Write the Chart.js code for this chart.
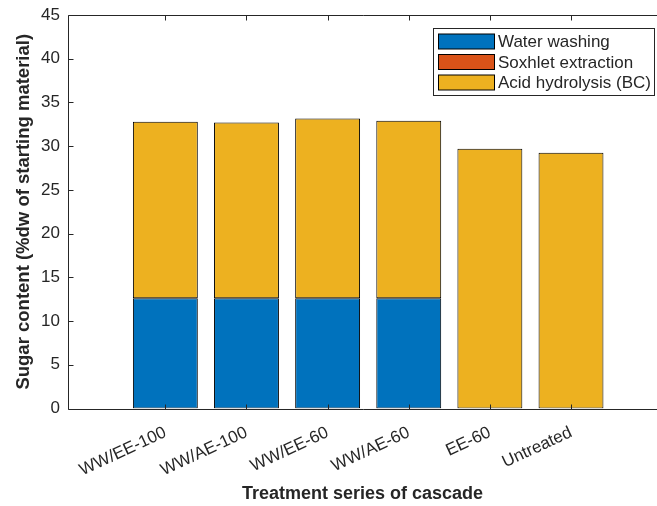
<!DOCTYPE html>
<html>
<head>
<meta charset="utf-8">
<script src="https://cdn.jsdelivr.net/npm/chart.js@4"></script>
<style>
  html, body { margin: 0; padding: 0; background: #fff; overflow: hidden; }
  #wrap { width: 657px; height: 506px; }
</style>
</head>
<body>
<div id="wrap"><canvas id="myChart"></canvas></div>
<script>
const categories = ['WW/EE-100', 'WW/AE-100', 'WW/EE-60', 'WW/AE-60', 'EE-60', 'Untreated'];
const waterWashing = [12.6, 12.6, 12.6, 12.6, 0, 0];
const soxhletExtraction = [0, 0, 0, 0, 0, 0];
const acidHydrolysis = [20.2, 20.1, 20.55, 20.3, 29.7, 29.25];
const yTicks = [0, 5, 10, 15, 20, 25, 30, 35, 40, 45];

const seriesNames = ['Water washing', 'Soxhlet extraction', 'Acid hydrolysis (BC)'];
const seriesColors = ['#0072BD', '#D95319', '#EDB120'];
const axisColor = '#262626';
const font = '"Liberation Sans", Arial, sans-serif';

function points(arr) {
  return arr.map((v, i) => ({ x: i + 1, y: v }));
}

// MATLAB style box with inward ticks + legend inside the axes
const matlabBox = {
  id: 'matlabBox',
  afterDatasetsDraw(chart) {
    const { ctx, chartArea: a, scales: { x, y } } = chart;
    ctx.save();
    ctx.strokeStyle = axisColor;
    ctx.lineWidth = 1;
    ctx.beginPath();
    const L = Math.round(a.left) + 0.5, B = Math.round(a.bottom) + 0.5, T = Math.round(a.top) + 0.5;
    ctx.moveTo(a.right + 5, T); ctx.lineTo(L, T); ctx.lineTo(L, B); ctx.lineTo(a.right + 5, B);
    for (let i = 0; i < categories.length; i++) {
      const px = Math.round(x.getPixelForValue(i + 1)) + 0.5;
      ctx.moveTo(px, B); ctx.lineTo(px, B - 5);
      ctx.moveTo(px, T); ctx.lineTo(px, T + 5);
    }
    for (const v of yTicks) {
      const py = Math.round(y.getPixelForValue(v)) + 0.5;
      ctx.moveTo(L, py); ctx.lineTo(L + 5, py);
    }
    ctx.stroke();

    // legend
    const lx = 433.5, ly = 28.5, lw = 221, lh = 67;
    ctx.fillStyle = '#fff';
    ctx.fillRect(lx, ly, lw, lh);
    ctx.strokeStyle = '#262626';
    ctx.strokeRect(lx, ly, lw, lh);
    ctx.font = '17px ' + font;
    ctx.textBaseline = 'middle';
    for (let i = 0; i < seriesNames.length; i++) {
      const cy = 41.5 + i * 20.5;
      ctx.fillStyle = seriesColors[i];
      ctx.fillRect(438.5, cy - 7.5, 56, 15);
      ctx.strokeStyle = '#000';
      ctx.strokeRect(438.5, cy - 7.5, 56, 15);
      ctx.fillStyle = axisColor;
      ctx.fillText(seriesNames[i], 498, cy + 1);
    }
    ctx.restore();
  }
};

const data = {
  datasets: [
    { label: seriesNames[0], data: points(waterWashing) },
    { label: seriesNames[1], data: points(soxhletExtraction) },
    { label: seriesNames[2], data: points(acidHydrolysis) }
  ].map((d, i) => Object.assign(d, {
    backgroundColor: seriesColors[i],
    borderColor: '#000',
    borderWidth: 1,
    borderSkipped: false,
    barPercentage: 0.8,
    categoryPercentage: 1
  }))
};

const config = {
  type: 'bar',
  data: data,
  plugins: [matlabBox],
  options: {
    responsive: true,
    maintainAspectRatio: false,
    animation: false,
    layout: { padding: { top: 15, right: 0, left: 0, bottom: 0 } },
    plugins: { legend: { display: false }, tooltip: { enabled: false } },
    scales: {
      x: {
        type: 'linear',
        stacked: true,
        offset: false,
        min: -0.2,
        max: 7.06,
        afterBuildTicks: s => { s.ticks = categories.map((c, i) => ({ value: i + 1 })); },
        afterFit: s => { s.height = 97.5; s.paddingLeft = 0; s.paddingRight = 0; },
        grid: { display: false },
        border: { display: false },
        ticks: {
          autoSkip: false,
          minRotation: 25,
          maxRotation: 25,
          padding: 6,
          color: axisColor,
          font: { family: font, size: 17 },
          callback: v => categories[v - 1]
        },
        title: {
          display: true,
          text: 'Treatment series of cascade',
          color: axisColor,
          font: { family: font, size: 18, weight: 'bold' },
          padding: { top: 4, bottom: 1 }
        }
      },
      y: {
        stacked: true,
        min: 0,
        max: 45,
        afterBuildTicks: s => { s.ticks = yTicks.map(v => ({ value: v })); },
        afterFit: s => { s.width = 68; s.paddingTop = 0; s.paddingBottom = 0; },
        grid: { display: false, drawTicks: false },
        border: { display: false },
        ticks: {
          padding: 8,
          color: axisColor,
          font: { family: font, size: 17 }
        },
        title: {
          display: true,
          text: 'Sugar content (%dw of starting material)',
          color: axisColor,
          font: { family: font, size: 18.5, weight: 'bold' },
          padding: { top: 13, bottom: 2 }
        }
      }
    }
  }
};

new Chart(document.getElementById('myChart'), config);
</script>
</body>
</html>
